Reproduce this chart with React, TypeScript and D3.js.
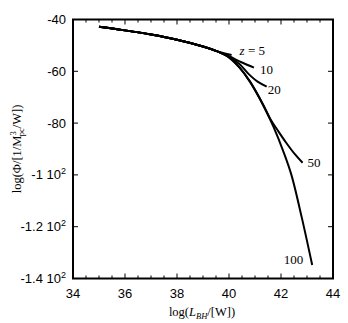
import React, { useEffect, useRef } from "react";
import * as d3 from "d3";

// luminosity function of black holes, one curve per redshift
const zLabels = ["z = 5", "10", "20", "50", "100"];
const logL5 = [35, 36, 37, 38, 39, 39.5, 39.8, 40.1];
const logPhi5 = [-42.8, -44.2, -45.8, -47.8, -50.4, -52.1, -53.0, -53.7];
const logL10 = [35, 36, 37, 38, 39, 39.5, 40, 40.5, 40.96];
const logPhi10 = [-42.8, -44.2, -45.8, -47.8, -50.4, -52.1, -54.2, -56.6, -58.6];
const logL20 = [35, 36, 37, 38, 39, 39.5, 40, 40.4, 40.75, 41.1, 41.45];
const logPhi20 = [-42.8, -44.2, -45.8, -47.8, -50.4, -52.1, -54.4, -57.2, -61.0, -64.0, -65.9];
const logL50 = [35, 36, 37, 38, 39, 39.5, 40, 40.4, 40.8, 41.3, 41.6, 41.9, 42.2, 42.5, 42.83];
const logPhi50 = [-42.8, -44.2, -45.8, -47.8, -50.4, -52.1, -54.6, -58.5, -63.9, -72.6, -78.6, -83.2, -87.6, -91.6, -95.3];
const logL100 = [35, 36, 37, 38, 39, 39.5, 40, 40.4, 40.8, 41.3, 41.7, 42.1, 42.4, 42.8, 43.2];
const logPhi100 = [-42.8, -44.2, -45.8, -47.8, -50.4, -52.1, -54.6, -58.5, -63.9, -72.8, -81.2, -91.2, -100.0, -116.5, -134.8];

const xTicks = [34, 36, 38, 40, 42, 44];
const yTicks = [-40, -60, -80, -100, -120, -140];
const yTickLabels = ["-40", "-60", "-80", "-1 10^2", "-1.2 10^2", "-1.4 10^2"];

// label offsets from the curve end (style, not data)
const labelDx = [8, 6, 1, 5, -9];
const labelDy = [0, 6, 7, 4, -1];
const labelAnchor = ["start", "start", "start", "start", "end"];

const W = 348;
const H = 323;
const margin = { left: 73, right: 15, top: 19.5, bottom: 44.5 };

const drawChart = (el: SVGSVGElement) => {
  const svg = d3.select(el);
  svg.selectAll("*").remove();

  const x = d3.scaleLinear().domain([34, 44]).range([margin.left, W - margin.right]);
  const y = d3.scaleLinear().domain([-40, -140]).range([margin.top, H - margin.bottom]);

  const series = [
    [logL5, logPhi5],
    [logL10, logPhi10],
    [logL20, logPhi20],
    [logL50, logPhi50],
    [logL100, logPhi100],
  ];

  const line = d3
    .line<[number, number]>()
    .x((d) => x(d[0]))
    .y((d) => y(d[1]))
    .curve(d3.curveCatmullRom.alpha(0.5));

  const g = svg.append("g");
  series.forEach((s, i) => {
    const pts = s[0].map((v, j) => [v, s[1][j]] as [number, number]);
    g.append("path")
      .attr("d", line(pts))
      .attr("fill", "none")
      .attr("stroke", "#000")
      .attr("stroke-width", 2);
    const last = pts[pts.length - 1];
    const t = g
      .append("text")
      .attr("x", x(last[0]) + labelDx[i])
      .attr("y", y(last[1]) + labelDy[i])
      .attr("text-anchor", labelAnchor[i])
      .attr("font-family", "'Liberation Serif', serif")
      .attr("font-size", 13);
    if (i === 0) {
      t.append("tspan").attr("font-style", "italic").text("z");
      t.append("tspan").text(" = 5");
    } else {
      t.text(zLabels[i]);
    }
  });

  // inward ticks on all four sides
  const x0 = x.range()[0], x1 = x.range()[1];
  const y0 = y.range()[0], y1 = y.range()[1];
  const minorX = d3.range(34, 44.01, 0.5);
  const ticks = svg.append("g").attr("stroke", "#000").attr("stroke-width", 1);
  minorX.forEach((v) => {
    const len = Math.abs(v % 2) < 1e-6 ? 5 : 3;
    ticks.append("line").attr("x1", x(v)).attr("x2", x(v)).attr("y1", y1).attr("y2", y1 - len);
    ticks.append("line").attr("x1", x(v)).attr("x2", x(v)).attr("y1", y0).attr("y2", y0 + len);
  });
  yTicks.forEach((v) => {
    ticks.append("line").attr("x1", x0).attr("x2", x0 + 5).attr("y1", y(v)).attr("y2", y(v));
    ticks.append("line").attr("x1", x1).attr("x2", x1 - 5).attr("y1", y(v)).attr("y2", y(v));
  });

  svg
    .append("rect")
    .attr("x", x0)
    .attr("y", y0)
    .attr("width", x1 - x0)
    .attr("height", y1 - y0)
    .attr("fill", "none")
    .attr("stroke", "#000")
    .attr("stroke-width", 2);

  const sans = "'Liberation Sans', Arial, sans-serif";
  svg
    .append("g")
    .selectAll("text")
    .data(xTicks)
    .enter()
    .append("text")
    .attr("x", (d) => x(d))
    .attr("y", y1 + 19)
    .attr("text-anchor", "middle")
    .attr("font-family", sans)
    .attr("font-size", 13)
    .text((d) => d);

  yTicks.forEach((v, i) => {
    const parts = yTickLabels[i].split("^");
    const t = svg
      .append("text")
      .attr("x", x0 - 7)
      .attr("y", y(v) + 4.5)
      .attr("text-anchor", "end")
      .attr("font-family", sans)
      .attr("font-size", 13);
    t.append("tspan").text(parts[0]);
    if (parts[1]) t.append("tspan").attr("dy", -5).attr("font-size", 9).text(parts[1]);
  });

  const serif = "'Liberation Serif', serif";
  const xt = svg
    .append("text")
    .attr("x", (x0 + x1) / 2 - 1)
    .attr("y", 316)
    .attr("text-anchor", "middle")
    .attr("font-family", serif)
    .attr("font-size", 12.5);
  xt.append("tspan").text("log(");
  xt.append("tspan").attr("font-style", "italic").text("L");
  xt.append("tspan").attr("font-style", "italic").attr("font-size", 8.5).attr("dy", 3).text("BH");
  xt.append("tspan").attr("dy", -3).text("/[W])");

  const yt = svg
    .append("text")
    .attr("transform", `translate(21,${(y0 + y1) / 2}) rotate(-90)`)
    .attr("text-anchor", "middle")
    .attr("font-family", serif)
    .attr("font-size", 12.5);
  yt.append("tspan").text("log(Φ/[1/M");
  yt.append("tspan").attr("font-size", 8.5).attr("dy", -5).text("3");
  yt.append("tspan").attr("font-size", 8.5).attr("dx", -5).attr("dy", 8).text("pc");
  yt.append("tspan").attr("dy", -3).text("/W])");
};

const App = () => {
  const ref = useRef<SVGSVGElement>(null);
  useEffect(() => {
    if (ref.current) drawChart(ref.current);
  });
  return (
    <svg
      ref={ref}
      width={W}
      height={H}
      style={{ position: "absolute", left: 0, top: 0, background: "#fff" }}
    />
  );
};

export default App;
